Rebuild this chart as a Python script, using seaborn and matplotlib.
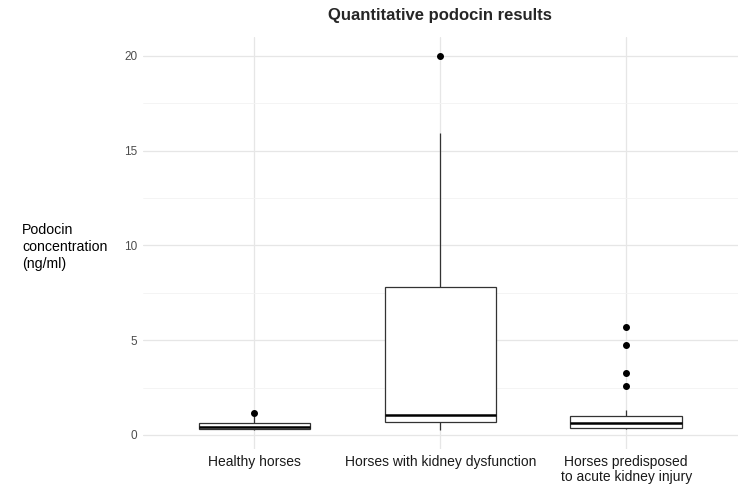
import pandas as pd
import seaborn as sns
import matplotlib.pyplot as plt
from matplotlib.ticker import MultipleLocator

# Valores (ng/ml), por grupo
groups = ["Healthy horses", "Horses with kidney dysfunction",
          "Horses predisposed\nto acute kidney injury"]
healthy = [0.26, 0.30, 0.33, 0.38, 0.42, 0.55, 0.65, 1.02, 1.18]
dysfunction = [0.25, 0.50, 0.70, 0.90, 1.06, 3.00, 7.79, 15.9, 20.0]
predisposed = [0.30, 0.31, 0.32, 0.34, 0.34, 0.35, 0.40, 0.45, 0.52, 0.60,
               0.65, 0.72, 0.80, 0.88, 0.95, 1.02, 1.32,
               2.59, 3.26, 4.77, 5.72]

df = pd.DataFrame({
    "group": [groups[0]] * len(healthy) + [groups[1]] * len(dysfunction)
             + [groups[2]] * len(predisposed),
    "value": healthy + dysfunction + predisposed,
})

sns.set_theme(style="white")
plt.rcParams["font.family"] = ["Liberation Sans", "DejaVu Sans"]

fig = plt.figure(figsize=(7.4, 4.84), dpi=100)
ax = fig.add_axes([0.193, 0.0723, 0.804, 0.8513])

sns.boxplot(data=df, x="group", y="value", order=groups, ax=ax,
            width=0.6, color="white", linecolor="#333333", linewidth=0.9,
            fliersize=4, showcaps=False,
            medianprops=dict(color="black", linewidth=1.8),
            flierprops=dict(marker="o", markerfacecolor="black",
                            markeredgecolor="black"))

# rejilla estilo theme_minimal
ax.yaxis.set_minor_locator(MultipleLocator(2.5))
ax.grid(which="minor", axis="y", color="#f3f3f3", linewidth=0.6)
ax.grid(which="major", axis="both", color="#e6e6e6", linewidth=0.9)
ax.xaxis.grid(True, which="major", color="#e6e6e6", linewidth=0.9)
ax.set_axisbelow(True)

ax.set_xlim(-0.6, 2.6)
ax.set_ylim(-0.74, 20.99)
ax.set_yticks([0, 5, 10, 15, 20])
for s in ax.spines.values():
    s.set_visible(False)
ax.tick_params(axis="both", which="both", length=0)
ax.tick_params(axis="y", labelsize=8.5, labelcolor="#4d4d4d", pad=4)
ax.tick_params(axis="x", labelsize=10, labelcolor="#1a1a1a", pad=4)
for lab in ax.get_xticklabels():
    lab.set_linespacing(1.12)

ax.set_xlabel("")
ax.set_ylabel("Podocin\nconcentration\n(ng/ml)", rotation=0, ha="left",
              va="center", fontsize=10.2, color="black", linespacing=1.25)
ax.yaxis.set_label_coords(-0.203, 0.49)
ax.set_title("Quantitative podocin results", fontsize=12,
             fontweight="bold", pad=12)

fig.savefig("out.png", dpi=100)
